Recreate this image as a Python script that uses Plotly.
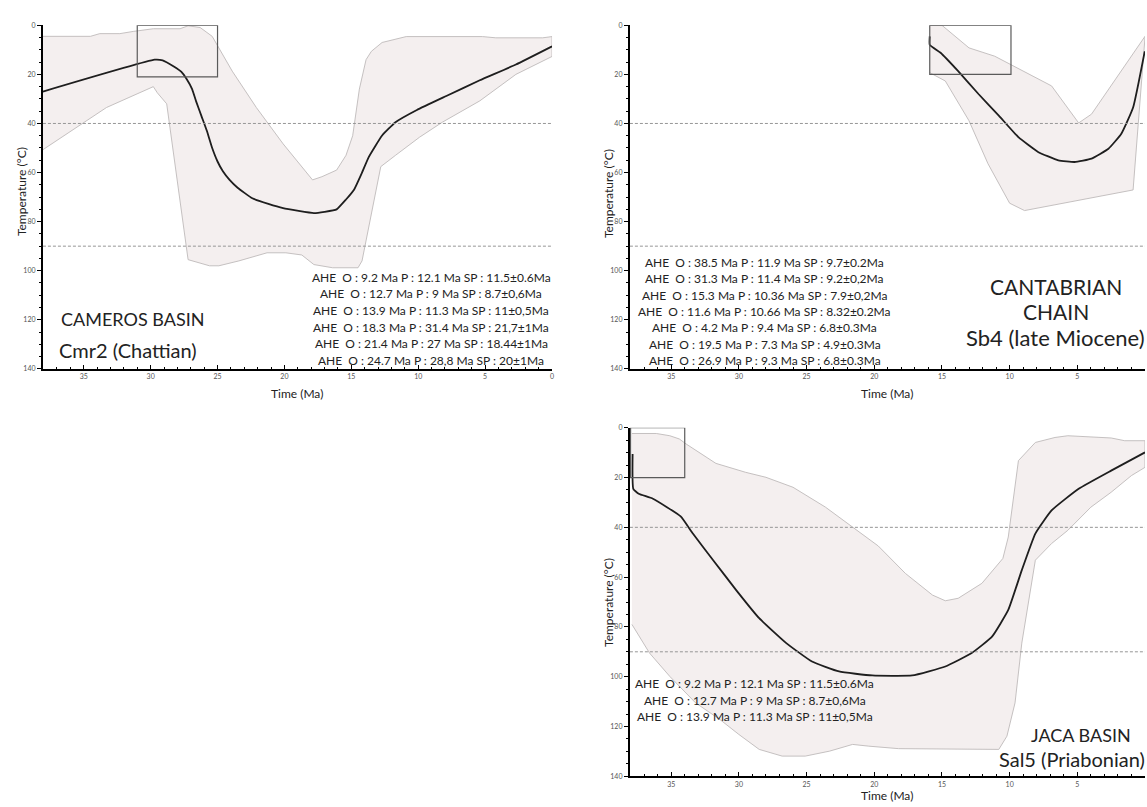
import plotly.graph_objects as go

W, H = 1147, 807
FONT = "Lato"

# ---------------- data: Cameros Basin (Cmr2) ----------------
cam_line_t = [38.05, 29.7, 29.1, 28.3, 27.7, 27.3, 26.9, 26.6, 26.2, 25.8, 25.4, 25.0, 24.6, 24.1,
              23.5, 22.4, 21.2, 20.1, 17.8, 17.0, 16.1, 15.4, 14.8, 14.2, 13.7, 12.7, 11.7, 10.1,
              7.9, 5.4, 2.7, 0.0]
cam_line_T = [27, 14, 14.3, 16.7, 19, 22, 26, 31, 37, 43, 50, 55.5, 59.5, 63,
              66.2, 70.5, 72.8, 74.5, 76.5, 76, 75, 71, 67, 60, 53.7, 44.9, 39.5, 34.5,
              28.8, 22.4, 16, 8.6]
cam_upper_t = [38.05, 34.5, 33.8, 32.3, 31.3, 29.8, 27.8, 27.2, 26.3, 25.4, 23.9, 22.1, 20.1, 17.9,
               17.2, 16.1, 15.4, 14.9, 14.4, 13.9, 13.5, 12.7, 10.9, 5.2, 4.2, 0.7, 0.0]
cam_upper_T = [4.5, 4.5, 3.4, 3.4, 2.5, 1.4, 1.4, 0.2, 0.9, 4.5, 18.7, 33.5, 48.3, 63,
               61.7, 59, 53, 45, 26, 14, 10.6, 7, 4.6, 4.6, 5.1, 5.1, 4.6]
cam_lower_t = [38.05, 33.3, 29.8, 29.5, 28.8, 28.3, 27.2, 25.6, 24.9, 23.4, 21.3, 19.9, 18.7, 17.8,
               16.4, 14.5, 14.2, 12.8, 11.7, 9.9, 8.2, 5.4, 2.7, 0.0]
cam_lower_T = [50.7, 33.5, 25, 27.5, 32, 52, 95.5, 98, 98, 96, 92.7, 92.7, 93.6, 97.5,
               98.8, 98.8, 96, 57.6, 53, 45.6, 39.5, 30.8, 20, 12.7]
cam_box_t = [31.0, 25.0]
cam_box_T = [0, 21]
cam_ahe = [
    "AHE\u00a0 O : 9.2 Ma P : 12.1 Ma SP : 11.5±0.6Ma",
    "AHE\u00a0 O : 12.7 Ma P : 9 Ma SP : 8.7±0,6Ma",
    "AHE\u00a0 O : 13.9 Ma P : 11.3 Ma SP : 11±0,5Ma",
    "AHE\u00a0 O : 18.3 Ma P : 31.4 Ma SP : 21,7±1Ma",
    "AHE\u00a0 O : 21.4 Ma P : 27 Ma SP : 18.44±1Ma",
    "AHE\u00a0 O : 24.7 Ma P : 28,8 Ma SP : 20±1Ma",
]
cam_title = ["CAMEROS BASIN", "Cmr2 (Chattian)"]

# ---------------- data: Cantabrian Chain (Sb4) ----------------
can_line_t = [15.9, 15.9, 15.1, 13.8, 12.3, 10.8, 9.35, 7.9, 6.4, 5.2, 3.95, 2.7, 1.75, 0.88, 0.02]
can_line_T = [4.5, 8, 11.2, 18.7, 28, 36.8, 45.6, 51.6, 55, 55.7, 54.3, 50.3, 44.2, 33.5, 10.6]
can_upper_t = [15.9, 15.0, 13.0, 11.1, 6.9, 4.9, 3.95, 0.0]
can_upper_T = [0, 0, 9.2, 12.6, 24.7, 39.8, 36.2, 4.5]
can_lower_t = [15.9, 14.75, 13.0, 11.6, 10.0, 8.9, 0.88, 0.0]
can_lower_T = [19.3, 22.7, 38.9, 56.4, 72.5, 75.5, 67.1, 5]
can_box_t = [15.9, 9.9]
can_box_T = [0, 20]
can_ahe = [
    "AHE\u00a0 O : 38.5 Ma P : 11.9 Ma SP : 9.7±0.2Ma",
    "AHE\u00a0 O : 31.3 Ma P : 11.4 Ma SP : 9.2±0,2Ma",
    "AHE\u00a0 O : 15.3 Ma P : 10.36 Ma SP : 7.9±0,2Ma",
    "AHE\u00a0 O : 11.6 Ma P : 10.66 Ma SP : 8.32±0.2Ma",
    "AHE\u00a0 O : 4.2 Ma P : 9.4 Ma SP : 6.8±0.3Ma",
    "AHE\u00a0 O : 19.5 Ma P : 7.3 Ma SP : 4.9±0.3Ma",
    "AHE\u00a0 O : 26.9 Ma P : 9.3 Ma SP : 6.8±0.3Ma",
]
can_title = ["CANTABRIAN", "CHAIN", "Sb4 (late Miocene)"]

# ---------------- data: Jaca Basin (Sal5) ----------------
jac_line_t = [37.85, 37.8, 37.4, 36.35, 34.3, 33.4, 31.9, 30.2, 28.5, 26.5, 24.6, 22.6, 20.15, 17.2,
              14.75, 12.8, 11.3, 10.1, 9.1, 8.1, 6.9, 4.9, 2.5, 0.0]
jac_line_T = [10.5, 24.5, 26.5, 28.5, 35.6, 42.5, 53.2, 65.2, 76.5, 86.5, 93.9, 97.9, 99.5, 99.5,
              95.9, 90.5, 83.9, 73.2, 57.2, 42.5, 33.2, 24.5, 17.2, 9.9]
jac_upper_t = [37.9, 36.1, 35.1, 34.4, 33.9, 31.7, 29.5, 28.0, 26.0, 23.6, 21.6, 19.7, 17.7, 15.7,
               14.75, 13.8, 12.05, 10.5, 10.1, 9.35, 8.1, 6.65, 5.7, 4.45, 2.5, 1.5, 0.0]
jac_upper_T = [2.3, 2.3, 3.2, 4.5, 6.5, 14.3, 17.9, 19.9, 23.9, 31.9, 39.9, 47.5, 58.5, 67.2,
               69.5, 68.5, 62.5, 52.5, 43.9, 13.2, 5.9, 3.9, 3.2, 3.6, 4.1, 5.2, 5.2]
jac_lower_t = [37.9, 36.6, 35.1, 33.2, 31.4, 30.0, 28.5, 26.8, 25.1, 23.3, 21.6, 20.4, 18.2,
               17.2, 10.8, 10.2, 9.6, 9.1, 8.1, 6.9, 5.7, 4.0, 2.5, 1.0, 0.0]
jac_lower_T = [79, 90.5, 99.9, 110.5, 117.2, 123.2, 129.2, 131.9, 131.9, 129.9, 127.2, 127.9, 128.9,
               129.2, 129.2, 123.9, 110.5, 86.5, 53.2, 46.5, 41.2, 31.9, 25.9, 19.2, 15.9]
jac_box_t = [38.0, 34.0]
jac_box_T = [0, 20]
jac_ahe = cam_ahe[:3]
jac_title = ["JACA BASIN", "Sal5 (Priabonian)"]

# reference isotherms (°C)
isotherms = [40, 90]
x_ticks = [35, 30, 25, 20, 15, 10, 5, 0]
y_ticks = [0, 20, 40, 60, 80, 100, 120, 140]
x_title = "Time (Ma)"
y_title = "Temperature (°C)"

# ---------------- layout helpers ----------------
def px_x(x):
    return x / W

def px_y(y):
    return 1 - y / H

TOP_Y = [px_y(367.5), px_y(20.5)]
BOT_Y = [px_y(779), px_y(427)]
LEFT_X = [px_x(43), px_x(553)]
RIGHT_X = [px_x(631), 1.0]

FILL = "rgb(244,239,239)"
EDGE = "rgb(190,186,186)"

fig = go.Figure()

panels = [
    ("x", "y", cam_line_t, cam_line_T, cam_upper_t, cam_upper_T, cam_lower_t, cam_lower_T, cam_box_t, cam_box_T),
    ("x2", "y2", can_line_t, can_line_T, can_upper_t, can_upper_T, can_lower_t, can_lower_T, can_box_t, can_box_T),
    ("x3", "y3", jac_line_t, jac_line_T, jac_upper_t, jac_upper_T, jac_lower_t, jac_lower_T, jac_box_t, jac_box_T),
]

shapes = []
for xa, ya, lt, lT, ut, uT, wt, wT, bt, bT in panels:
    fig.add_trace(go.Scatter(
        x=ut + wt[::-1], y=uT + wT[::-1], xaxis=xa, yaxis=ya,
        mode="lines", fill="toself", fillcolor=FILL,
        line=dict(color=EDGE, width=0.9), hoverinfo="skip", showlegend=False))
    fig.add_trace(go.Scatter(
        x=lt, y=lT, xaxis=xa, yaxis=ya, mode="lines",
        line=dict(color="rgb(30,30,30)", width=1.8, shape="spline", smoothing=0.4),
        showlegend=False))
    for iso in isotherms:
        shapes.append(dict(type="line", xref=f"{xa} domain", yref=ya, x0=0, x1=1, y0=iso, y1=iso,
                           line=dict(color="rgb(150,150,150)", width=1, dash="3px,2px")))
    shapes.append(dict(type="rect", xref=xa, yref=ya, x0=bt[0], x1=bt[1], y0=bT[0], y1=bT[1],
                       line=dict(color="rgb(90,90,90)", width=1.2), fillcolor="rgba(0,0,0,0)"))

def xaxis_style(domain, anchor):
    return dict(domain=domain, anchor=anchor, range=[38.05, 0], showgrid=False, zeroline=False,
                showline=True, linecolor="black", linewidth=2,
                tickvals=x_ticks, ticks="inside", ticklen=4, tickcolor="black", tickwidth=1,
                minor=dict(dtick=1, ticks="inside", ticklen=2, tickcolor="black"),
                tickfont=dict(family=FONT, size=7, color="#555"))

def yaxis_style(domain, anchor):
    return dict(domain=domain, anchor=anchor, range=[140, 0], showgrid=False, zeroline=False,
                showline=True, linecolor="black", linewidth=2,
                tickvals=y_ticks, ticks="outside", ticklen=4, tickcolor="black", tickwidth=1,
                minor=dict(dtick=5, ticks="outside", ticklen=2, tickcolor="black"),
                tickfont=dict(family=FONT, size=7, color="#555"))

annotations = []

def add_text(text, x, y, size, xanchor="center", angle=0, color="#222"):
    annotations.append(dict(text=text, x=px_x(x), y=px_y(y), xref="paper", yref="paper",
                            xanchor=xanchor, yanchor="middle", showarrow=False, align="center",
                            textangle=angle, font=dict(family=FONT, size=size, color=color)))

# axis titles
add_text(x_title, 298, 392, 12)
add_text(x_title, 889, 392, 12)
add_text(x_title, 889, 798, 12)
add_text(y_title, 21, 188, 12, angle=-90)
add_text(y_title, 609, 190, 12, angle=-90)
add_text(y_title, 609, 603, 12, angle=-90)

# AHE blocks (one line per annotation)
for i, s in enumerate(cam_ahe):
    add_text(s, 432, 275 + 16.8 * i, 12)
for i, s in enumerate(can_ahe):
    add_text(s, 766, 260 + 16.5 * i, 12)
for i, s in enumerate(jac_ahe):
    add_text(s, 756, 685 + 17 * i, 12)

# sample titles
add_text(cam_title[0], 59, 317, 18, xanchor="left")
add_text(cam_title[1], 57, 348, 20, xanchor="left")
add_text(can_title[0], 1058, 284, 21)
add_text(can_title[1], 1058, 310, 21)
add_text(can_title[2], 1057, 336, 22)
add_text(jac_title[0], 1083, 737, 18)
add_text(jac_title[1], 1074, 762, 20)

fig.update_layout(
    width=W, height=H, margin=dict(l=0, r=0, t=0, b=0),
    paper_bgcolor="white", plot_bgcolor="rgba(0,0,0,0)",
    font=dict(family=FONT, color="#222"),
    xaxis=xaxis_style(LEFT_X, "y"), yaxis=yaxis_style(TOP_Y, "x"),
    xaxis2=xaxis_style(RIGHT_X, "y2"), yaxis2=yaxis_style(TOP_Y, "x2"),
    xaxis3=xaxis_style(RIGHT_X, "y3"), yaxis3=yaxis_style(BOT_Y, "x3"),
    shapes=shapes, annotations=annotations,
)

fig.write_html("out.html", config={"displayModeBar": False},
               post_script="document.body.style.margin='0';document.body.style.overflow='hidden';")
